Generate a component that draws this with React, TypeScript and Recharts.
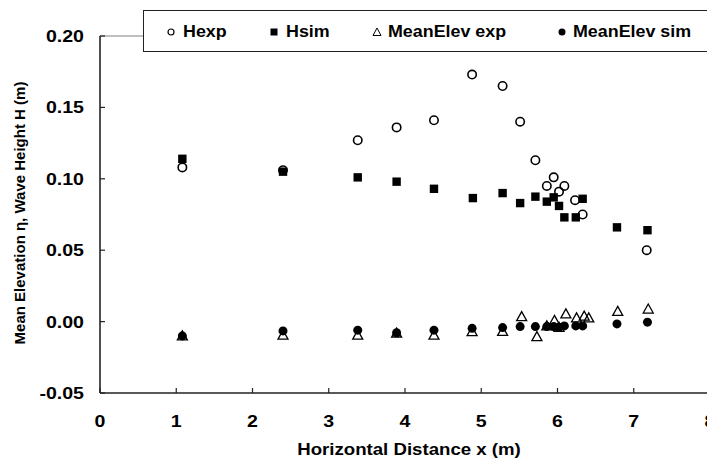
import { ScatterChart, Scatter, XAxis, YAxis, ReferenceLine } from 'recharts';

// x positions (m) and values (m)
const hExpX = [1.08, 2.4, 3.38, 3.89, 4.38, 4.88, 5.28, 5.51, 5.71, 5.86, 5.95, 6.02, 6.09, 6.23, 6.33, 7.17];
const hExpY = [0.108, 0.106, 0.127, 0.136, 0.141, 0.173, 0.165, 0.14, 0.113, 0.095, 0.101, 0.091, 0.095, 0.085, 0.075, 0.05];

const hSimX = [1.08, 2.4, 3.38, 3.89, 4.38, 4.89, 5.28, 5.51, 5.71, 5.86, 5.95, 6.02, 6.09, 6.24, 6.33, 6.78, 7.18];
const hSimY = [0.114, 0.105, 0.101, 0.098, 0.093, 0.0865, 0.09, 0.083, 0.0875, 0.084, 0.087, 0.081, 0.073, 0.073, 0.086, 0.066, 0.064];

const meanExpX = [1.08, 2.4, 3.38, 3.89, 4.38, 4.88, 5.28, 5.53, 5.73, 5.86, 5.96, 6.02, 6.11, 6.25, 6.35, 6.41, 6.79, 7.19];
const meanExpY = [-0.01, -0.0095, -0.0095, -0.008, -0.0095, -0.007, -0.0068, 0.0035, -0.0105, -0.003, 0.0008, -0.004, 0.0054, 0.0026, 0.0038, 0.0026, 0.0072, 0.0088];

const meanSimX = [1.08, 2.4, 3.38, 3.89, 4.38, 4.88, 5.28, 5.51, 5.71, 5.86, 5.95, 6.02, 6.09, 6.24, 6.33, 6.78, 7.18];
const meanSimY = [-0.01, -0.0065, -0.006, -0.0078, -0.006, -0.0047, -0.0042, -0.0035, -0.0035, -0.0035, -0.0035, -0.004, -0.003, -0.003, -0.003, -0.0016, -0.0004];

const xTicks = [0, 1, 2, 3, 4, 5, 6, 7, 8];
const yTicks = [-0.05, 0, 0.05, 0.1, 0.15, 0.2];

const FONT = '"Liberation Sans", Arial, sans-serif';

const toPoints = (xs: number[], ys: number[]) => xs.map((x, i) => ({ x, y: ys[i] }));

const OpenCircle = (p: any) => (
  <circle cx={p.cx} cy={p.cy} r={4.2} fill="none" stroke="#000" strokeWidth={1.6} />
);
const FilledSquare = (p: any) => (
  <rect x={p.cx - 4.2} y={p.cy - 4.2} width={8.4} height={8.4} fill="#000" />
);
const OpenTriangle = (p: any) => (
  <polygon
    points={`${p.cx},${p.cy - 5} ${p.cx - 5},${p.cy + 4} ${p.cx + 5},${p.cy + 4}`}
    fill="none"
    stroke="#000"
    strokeWidth={1.3}
  />
);
const FilledCircle = (p: any) => <circle cx={p.cx} cy={p.cy} r={4.5} fill="#000" />;

// inside tick marks + stretched bold labels, like the Excel export
const XTick = (p: any) => {
  const { x, y, payload } = p;
  return (
    <g>
      <line x1={x} x2={x} y1={y} y2={y - 5} stroke="#222" strokeWidth={1.2} />
      <text
        transform={`translate(${x},${y + 34}) scale(1.2,1)`}
        textAnchor="middle"
        fontFamily={FONT}
        fontWeight="bold"
        fontSize={16.3}
        fill="#000"
      >
        {payload.value}
      </text>
    </g>
  );
};

const YTick = (p: any) => {
  const { x, y, payload } = p;
  return (
    <g>
      <line x1={x} x2={x + 5} y1={y} y2={y} stroke="#222" strokeWidth={1.2} />
      <text
        transform={`translate(${x - 16},${y + 6}) scale(1.2,1)`}
        textAnchor="end"
        fontFamily={FONT}
        fontWeight="bold"
        fontSize={16.3}
        fill="#000"
      >
        {payload.value.toFixed(2)}
      </text>
    </g>
  );
};

const XTitle = () => (
  <text
    transform="translate(409,455) scale(1.13,1)"
    textAnchor="middle"
    fontFamily={FONT}
    fontWeight="bold"
    fontSize={16.5}
    fill="#000"
  >
    Horizontal Distance x (m)
  </text>
);

const YTitle = () => (
  <text
    transform="translate(24.5,213) rotate(-90)"
    textAnchor="middle"
    fontFamily={FONT}
    fontWeight="bold"
    fontSize={15}
    fill="#000"
  >
    Mean Elevation η, Wave Height H (m)
  </text>
);

const legendText: React.CSSProperties = {
  position: 'absolute',
  top: 11,
  fontFamily: FONT,
  fontWeight: 'bold',
  fontSize: 15.8,
  transform: 'scaleX(1.13)',
  transformOrigin: 'left center',
  whiteSpace: 'nowrap',
  lineHeight: '20px',
};

function LegendBox() {
  const mark = (left: number, child: React.ReactNode) => (
    <svg width={10} height={10} style={{ position: 'absolute', left: left - 5, top: 16 }}>
      {child}
    </svg>
  );
  return (
    <div
      style={{
        position: 'absolute',
        left: 143,
        top: 10,
        width: 600,
        height: 42,
        boxSizing: 'border-box',
        border: '1px solid #222',
        background: '#fff',
      }}
    >
      {mark(27, <circle cx={5} cy={5} r={3} fill="none" stroke="#000" strokeWidth={1.2} />)}
      <span style={{ ...legendText, left: 39 }}>Hexp</span>
      {mark(130, <rect x={1.5} y={1.5} width={7} height={7} fill="#000" />)}
      <span style={{ ...legendText, left: 142 }}>Hsim</span>
      {mark(233, <polygon points="5,1 1,8.5 9,8.5" fill="none" stroke="#000" strokeWidth={1} />)}
      <span style={{ ...legendText, left: 244 }}>MeanElev exp</span>
      {mark(418, <circle cx={5} cy={5} r={3.5} fill="#000" />)}
      <span style={{ ...legendText, left: 429 }}>MeanElev sim</span>
    </div>
  );
}

export default function App() {
  return (
    <div
      style={{
        position: 'absolute',
        left: 0,
        top: 0,
        width: 707,
        height: 459,
        overflow: 'hidden',
        background: '#fff',
      }}
    >
      <ScatterChart width={720} height={459} margin={{ top: 36, right: 10, bottom: 0, left: 0 }}>
        <XAxis
          type="number"
          dataKey="x"
          domain={[0, 8]}
          ticks={xTicks}
          interval={0}
          height={66}
          tickSize={0}
          tickMargin={0}
          tickLine={false}
          tick={<XTick />}
          axisLine={{ stroke: '#222', strokeWidth: 1.6 }}
          label={{ content: () => <XTitle /> }}
        />
        <YAxis
          type="number"
          dataKey="y"
          domain={[-0.05, 0.2]}
          ticks={yTicks}
          interval={0}
          width={100}
          tickSize={0}
          tickMargin={0}
          tickLine={false}
          tick={<YTick />}
          axisLine={{ stroke: '#222', strokeWidth: 1.6 }}
          label={{ content: () => <YTitle /> }}
        />
        <ReferenceLine y={0.2} stroke="#808080" strokeWidth={1} />
        <Scatter name="Hexp" data={toPoints(hExpX, hExpY)} shape={OpenCircle} isAnimationActive={false} />
        <Scatter name="Hsim" data={toPoints(hSimX, hSimY)} shape={FilledSquare} isAnimationActive={false} />
        <Scatter
          name="MeanElev exp"
          data={toPoints(meanExpX, meanExpY)}
          shape={OpenTriangle}
          isAnimationActive={false}
        />
        <Scatter
          name="MeanElev sim"
          data={toPoints(meanSimX, meanSimY)}
          shape={FilledCircle}
          isAnimationActive={false}
        />
      </ScatterChart>
      <LegendBox />
    </div>
  );
}
